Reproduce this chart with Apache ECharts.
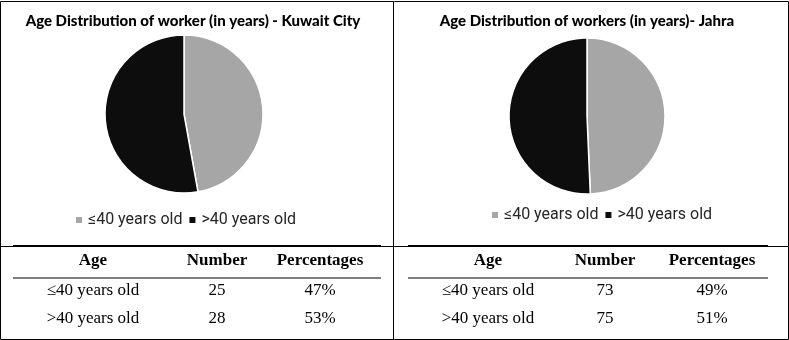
<!DOCTYPE html>
<html>
<head>
<meta charset="utf-8">
<script src="https://cdn.jsdelivr.net/npm/echarts@6/dist/echarts.min.js"></script>
<style>
  html, body { margin: 0; padding: 0; background: #fff; }
  #chart { width: 789px; height: 340px; }
</style>
</head>
<body>
<div id="chart"></div>
<script>
// data
const ageGroups = ['≤40 years old', '>40 years old'];
const kuwaitCounts = [25, 28];
const jahraCounts = [73, 75];
const kuwaitPct = ['47%', '53%'];
const jahraPct = ['49%', '51%'];
const headers = ['Age', 'Number', 'Percentages'];
const titles = ['Age Distribution of worker (in years) - Kuwait City', 'Age Distribution of workers (in years)- Jahra'];
const colors = ['#a6a6a6', '#0d0d0d'];

const chart = echarts.init(document.getElementById('chart'), null, { renderer: 'canvas' });

function pieData(counts) {
  return ageGroups.map((n, i) => ({ name: n, value: counts[i] }));
}

// table text + rules, built from the arrays
function tableGraphics(x0, x1, cols, counts, pcts) {
  const g = [];
  g.push({ type: 'line', shape: { x1: x0, y1: 246, x2: x1, y2: 246 }, style: { stroke: '#000', lineWidth: 2 } });
  g.push({ type: 'line', shape: { x1: x0, y1: 278, x2: x1, y2: 278 }, style: { stroke: '#000', lineWidth: 1.2 } });
  headers.forEach((h, i) => {
    g.push({ type: 'text', x: cols[i], y: 261, style: { text: h, font: 'bold 17px "Liberation Serif"', fill: '#000', textAlign: 'center', textVerticalAlign: 'middle' } });
  });
  ageGroups.forEach((a, r) => {
    const y = 291 + r * 28;
    [a, String(counts[r]), pcts[r]].forEach((t, i) => {
      g.push({ type: 'text', x: cols[i], y: y, style: { text: t, font: '17px "Liberation Serif"', fill: '#000', textAlign: 'center', textVerticalAlign: 'middle' } });
    });
  });
  return g;
}

const graphics = [
  { type: 'rect', shape: { x: 0.5, y: 1.5, width: 788, height: 338 }, style: { fill: 'none', stroke: '#000', lineWidth: 1 } },
  { type: 'line', shape: { x1: 393.5, y1: 1, x2: 393.5, y2: 340 }, style: { stroke: '#000', lineWidth: 1 } },
  { type: 'line', shape: { x1: 0, y1: 246.5, x2: 789, y2: 246.5 }, style: { stroke: '#000', lineWidth: 1 } },
  ...tableGraphics(13, 381, [93, 217, 320], kuwaitCounts, kuwaitPct),
  ...tableGraphics(408, 768, [488, 605, 712], jahraCounts, jahraPct)
];

const legendBase = {
  data: ageGroups,
  icon: 'rect',
  itemWidth: 8,
  itemHeight: 8,
  itemGap: 5,
  selectedMode: false,
  padding: 0,
  textStyle: { fontFamily: 'Roboto', fontSize: 16, color: '#262626' }
};

const titleStyle = { fontFamily: 'Lato', fontWeight: 900, fontSize: 15, color: '#000' };

const option = {
  animation: false,
  color: colors,
  title: [
    { text: titles[0], left: 188, top: 9, textAlign: 'center', textStyle: titleStyle },
    { text: titles[1], left: 582, top: 9, textAlign: 'center', textStyle: titleStyle }
  ],
  legend: [
    Object.assign({ left: 74, top: 212 }, legendBase),
    Object.assign({ left: 490, top: 207 }, legendBase)
  ],
  series: [
    {
      type: 'pie', center: [184, 114], radius: 79, startAngle: 90, clockwise: true,
      data: pieData(kuwaitCounts), label: { show: false }, labelLine: { show: false },
      itemStyle: { borderColor: '#fff', borderWidth: 1.5 }, emphasis: { disabled: true }
    },
    {
      type: 'pie', center: [587, 116], radius: 78, startAngle: 90, clockwise: true,
      data: pieData(jahraCounts), label: { show: false }, labelLine: { show: false },
      itemStyle: { borderColor: '#fff', borderWidth: 1.5 }, emphasis: { disabled: true }
    }
  ],
  graphic: graphics
};

chart.setOption(option);
</script>
</body>
</html>
